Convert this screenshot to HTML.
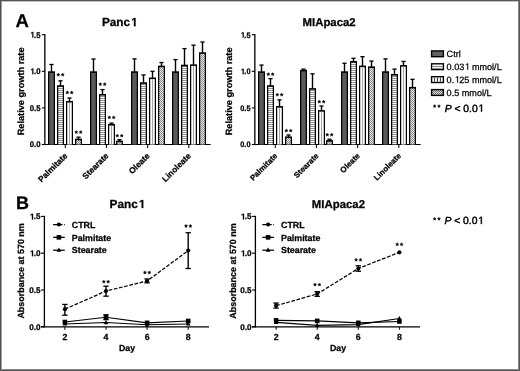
<!DOCTYPE html>
<html><head><meta charset="utf-8"><style>
html,body{margin:0;padding:0;background:#fff;overflow:hidden;}
svg{display:block;filter:grayscale(1);}
text{font-family:"Liberation Sans", sans-serif;fill:#000;text-rendering:geometricPrecision;stroke:#000;stroke-width:0.25px;}
</style></head><body>
<svg width="520" height="371" viewBox="0 0 520 371">
<defs>
<pattern id="hstripe" patternUnits="userSpaceOnUse" width="4" height="2"><rect width="4" height="2" fill="#fff"/><rect width="4" height="1" fill="#909090"/></pattern>
<pattern id="vstripe" patternUnits="userSpaceOnUse" width="2.6" height="4"><rect width="2.6" height="4" fill="#fff"/><rect width="0.8" height="4" fill="#9a9a9a"/></pattern>
<pattern id="xhatch2" patternUnits="userSpaceOnUse" width="2" height="2"><rect width="2" height="2" fill="#d8d8d8"/><rect width="1" height="1" fill="#707070"/><rect x="1" y="1" width="1" height="1" fill="#707070"/></pattern>
<pattern id="xhatch" patternUnits="userSpaceOnUse" width="2" height="2"><rect width="2" height="2" fill="#e8e8e8"/><rect width="1" height="1" fill="#8a8a8a"/><rect x="1" y="1" width="1" height="1" fill="#8a8a8a"/></pattern>
<filter id="soft" filterUnits="userSpaceOnUse" x="0" y="0" width="520" height="371"><feGaussianBlur stdDeviation="0.3"/></filter>
</defs>
<rect x="0" y="0" width="520" height="371" fill="#fff"/>
<g filter="url(#soft)">
<text x="15.6" y="26.8" font-size="18.5" font-weight="bold">A</text>
<text x="16.1" y="208.6" font-size="18.0" font-weight="bold">B</text>
<rect x="44.20" y="34.10" width="1.3" height="111.00" fill="#000"/>
<line x1="44.4" y1="144.5" x2="210.6" y2="144.5" stroke="#000" stroke-width="1.2"/>
<line x1="41.8" y1="34.70" x2="45" y2="34.70" stroke="#000" stroke-width="1.1"/>
<text id="t1_0" transform="translate(40.50,37.60) scale(0.93,1)" font-size="8.3" font-weight="bold" text-anchor="end"> .5</text><path transform="translate(40.50,37.60) scale(0.93,1) translate(-11.547,0.000) scale(0.004053,-0.004053)" d="M668,0 L668,1170 L330,959 L330,1180 L683,1409 L949,1409 L949,0 Z" fill="#000" stroke="#000" stroke-width="61.69"/>
<line x1="41.8" y1="71.30" x2="45" y2="71.30" stroke="#000" stroke-width="1.1"/>
<text id="t1_1" transform="translate(40.50,74.20) scale(0.93,1)" font-size="8.3" font-weight="bold" text-anchor="end"> .0</text><path transform="translate(40.50,74.20) scale(0.93,1) translate(-11.547,0.000) scale(0.004053,-0.004053)" d="M668,0 L668,1170 L330,959 L330,1180 L683,1409 L949,1409 L949,0 Z" fill="#000" stroke="#000" stroke-width="61.69"/>
<line x1="41.8" y1="107.90" x2="45" y2="107.90" stroke="#000" stroke-width="1.1"/>
<text transform="translate(40.50,110.80) scale(0.93,1)" font-size="8.3" font-weight="bold" text-anchor="end">0.5</text>
<line x1="41.8" y1="144.50" x2="45" y2="144.50" stroke="#000" stroke-width="1.1"/>
<text transform="translate(40.50,147.40) scale(0.93,1)" font-size="8.3" font-weight="bold" text-anchor="end">0.0</text>
<text transform="translate(23.8,91.4) rotate(-90)" font-size="9.2" font-weight="bold" text-anchor="middle">Relative growth rate</text>
<text id="t1_2" x="101.9" y="26.2" font-size="11.8" font-weight="bold">Panc </text><path transform=" translate(130.087,26.200) scale(0.005762,-0.005762)" d="M668,0 L668,1170 L330,959 L330,1180 L683,1409 L949,1409 L949,0 Z" fill="#000" stroke="#000" stroke-width="43.39"/>
<rect x="50.80" y="64.49" width="1.4" height="7.31" fill="#000"/>
<rect x="49.40" y="63.84" width="4.2" height="1.3" fill="#000"/>
<rect x="48" y="71.30" width="7" height="73.20" fill="#000"/>
<rect x="49.25" y="72.90" width="4.50" height="71.60" fill="#5a5a5a"/>
<rect x="59.80" y="80.82" width="1.4" height="4.89" fill="#000"/>
<rect x="58.40" y="80.17" width="4.2" height="1.3" fill="#000"/>
<rect x="57" y="85.21" width="7" height="59.29" fill="#000"/>
<rect x="58.25" y="86.81" width="4.50" height="57.69" fill="url(#hstripe)"/>
<polygon points="58.30,73.03 58.81,74.05 59.94,74.22 59.12,75.02 59.31,76.15 58.30,75.61 57.29,76.15 57.48,75.02 56.66,74.22 57.79,74.05" fill="#000" stroke="#000" stroke-width="0.35" stroke-linejoin="round"/><polygon points="62.70,73.03 63.21,74.05 64.34,74.22 63.52,75.02 63.71,76.15 62.70,75.61 61.69,76.15 61.88,75.02 61.06,74.22 62.19,74.05" fill="#000" stroke="#000" stroke-width="0.35" stroke-linejoin="round"/>
<rect x="68.80" y="98.02" width="1.4" height="3.43" fill="#000"/>
<rect x="67.40" y="97.37" width="4.2" height="1.3" fill="#000"/>
<rect x="66" y="100.95" width="7" height="43.55" fill="#000"/>
<rect x="67.25" y="102.55" width="4.50" height="41.95" fill="#fff"/>
<rect x="69.05" y="102.55" width="0.9" height="41.95" fill="#999"/>
<rect x="67.25" y="102.55" width="0.5" height="41.95" fill="#ccc"/>
<polygon points="67.30,90.83 67.81,91.85 68.94,92.02 68.12,92.82 68.31,93.95 67.30,93.41 66.29,93.95 66.48,92.82 65.66,92.02 66.79,91.85" fill="#000" stroke="#000" stroke-width="0.35" stroke-linejoin="round"/><polygon points="71.70,90.83 72.21,91.85 73.34,92.02 72.52,92.82 72.71,93.95 71.70,93.41 70.69,93.95 70.88,92.82 70.06,92.02 71.19,91.85" fill="#000" stroke="#000" stroke-width="0.35" stroke-linejoin="round"/>
<rect x="77.80" y="137.18" width="1.4" height="1.96" fill="#000"/>
<rect x="76.40" y="136.53" width="4.2" height="1.3" fill="#000"/>
<rect x="75" y="138.64" width="7" height="5.86" fill="#000"/>
<rect x="76.25" y="140.24" width="4.50" height="4.26" fill="url(#xhatch)"/>
<polygon points="76.30,130.43 76.81,131.45 77.94,131.62 77.12,132.42 77.31,133.55 76.30,133.01 75.29,133.55 75.48,132.42 74.66,131.62 75.79,131.45" fill="#000" stroke="#000" stroke-width="0.35" stroke-linejoin="round"/><polygon points="80.70,130.43 81.21,131.45 82.34,131.62 81.52,132.42 81.71,133.55 80.70,133.01 79.69,133.55 79.88,132.42 79.06,131.62 80.19,131.45" fill="#000" stroke="#000" stroke-width="0.35" stroke-linejoin="round"/>
<line x1="65.25" y1="144.5" x2="65.25" y2="148.0" stroke="#000" stroke-width="1"/>
<text transform="translate(67.95,156.4) rotate(-45)" font-size="8.4" font-weight="bold" text-anchor="end">Palmitate</text>
<rect x="92.80" y="59.00" width="1.4" height="12.80" fill="#000"/>
<rect x="91.40" y="58.35" width="4.2" height="1.3" fill="#000"/>
<rect x="90" y="71.30" width="7" height="73.20" fill="#000"/>
<rect x="91.25" y="72.90" width="4.50" height="71.60" fill="#5a5a5a"/>
<rect x="101.80" y="89.60" width="1.4" height="4.89" fill="#000"/>
<rect x="100.40" y="88.95" width="4.2" height="1.3" fill="#000"/>
<rect x="99" y="93.99" width="7" height="50.51" fill="#000"/>
<rect x="100.25" y="95.59" width="4.50" height="48.91" fill="url(#hstripe)"/>
<polygon points="100.30,82.53 100.81,83.55 101.94,83.72 101.12,84.52 101.31,85.65 100.30,85.11 99.29,85.65 99.48,84.52 98.66,83.72 99.79,83.55" fill="#000" stroke="#000" stroke-width="0.35" stroke-linejoin="round"/><polygon points="104.70,82.53 105.21,83.55 106.34,83.72 105.52,84.52 105.71,85.65 104.70,85.11 103.69,85.65 103.88,84.52 103.06,83.72 104.19,83.55" fill="#000" stroke="#000" stroke-width="0.35" stroke-linejoin="round"/>
<rect x="110.80" y="123.13" width="1.4" height="1.38" fill="#000"/>
<rect x="109.40" y="122.48" width="4.2" height="1.3" fill="#000"/>
<rect x="108" y="124.00" width="7" height="20.50" fill="#000"/>
<rect x="109.25" y="125.60" width="4.50" height="18.90" fill="#fff"/>
<rect x="111.05" y="125.60" width="0.9" height="18.90" fill="#999"/>
<rect x="109.25" y="125.60" width="0.5" height="18.90" fill="#ccc"/>
<polygon points="109.30,115.73 109.81,116.75 110.94,116.92 110.12,117.72 110.31,118.85 109.30,118.31 108.29,118.85 108.48,117.72 107.66,116.92 108.79,116.75" fill="#000" stroke="#000" stroke-width="0.35" stroke-linejoin="round"/><polygon points="113.70,115.73 114.21,116.75 115.34,116.92 114.52,117.72 114.71,118.85 113.70,118.31 112.69,118.85 112.88,117.72 112.06,116.92 113.19,116.75" fill="#000" stroke="#000" stroke-width="0.35" stroke-linejoin="round"/>
<rect x="118.80" y="139.67" width="1.4" height="1.45" fill="#000"/>
<rect x="117.40" y="139.02" width="4.2" height="1.3" fill="#000"/>
<rect x="116" y="140.62" width="7" height="3.88" fill="#000"/>
<rect x="117.25" y="142.22" width="4.50" height="2.28" fill="url(#xhatch)"/>
<polygon points="117.30,134.03 117.81,135.05 118.94,135.22 118.12,136.02 118.31,137.15 117.30,136.61 116.29,137.15 116.48,136.02 115.66,135.22 116.79,135.05" fill="#000" stroke="#000" stroke-width="0.35" stroke-linejoin="round"/><polygon points="121.70,134.03 122.21,135.05 123.34,135.22 122.52,136.02 122.71,137.15 121.70,136.61 120.69,137.15 120.88,136.02 120.06,135.22 121.19,135.05" fill="#000" stroke="#000" stroke-width="0.35" stroke-linejoin="round"/>
<line x1="106.45" y1="144.5" x2="106.45" y2="148.0" stroke="#000" stroke-width="1"/>
<text transform="translate(109.15,156.4) rotate(-45)" font-size="8.4" font-weight="bold" text-anchor="end">Stearate</text>
<rect x="133.80" y="58.86" width="1.4" height="12.94" fill="#000"/>
<rect x="132.40" y="58.21" width="4.2" height="1.3" fill="#000"/>
<rect x="131" y="71.30" width="7" height="73.20" fill="#000"/>
<rect x="132.25" y="72.90" width="4.50" height="71.60" fill="#5a5a5a"/>
<rect x="142.80" y="74.96" width="1.4" height="7.82" fill="#000"/>
<rect x="141.40" y="74.31" width="4.2" height="1.3" fill="#000"/>
<rect x="140" y="82.28" width="7" height="62.22" fill="#000"/>
<rect x="141.25" y="83.88" width="4.50" height="60.62" fill="url(#hstripe)"/>
<rect x="151.80" y="71.30" width="1.4" height="6.72" fill="#000"/>
<rect x="150.40" y="70.65" width="4.2" height="1.3" fill="#000"/>
<rect x="149" y="77.52" width="7" height="66.98" fill="#000"/>
<rect x="150.25" y="79.12" width="4.50" height="65.38" fill="#fff"/>
<rect x="152.05" y="79.12" width="0.9" height="65.38" fill="#999"/>
<rect x="150.25" y="79.12" width="0.5" height="65.38" fill="#ccc"/>
<rect x="160.80" y="62.52" width="1.4" height="3.65" fill="#000"/>
<rect x="159.40" y="61.87" width="4.2" height="1.3" fill="#000"/>
<rect x="158" y="65.66" width="7" height="78.84" fill="#000"/>
<rect x="159.25" y="67.26" width="4.50" height="77.24" fill="url(#xhatch)"/>
<line x1="147.65" y1="144.5" x2="147.65" y2="148.0" stroke="#000" stroke-width="1"/>
<text transform="translate(150.35,156.4) rotate(-45)" font-size="8.4" font-weight="bold" text-anchor="end">Oleate</text>
<rect x="174.80" y="59.59" width="1.4" height="12.21" fill="#000"/>
<rect x="173.40" y="58.94" width="4.2" height="1.3" fill="#000"/>
<rect x="172" y="71.30" width="7" height="73.20" fill="#000"/>
<rect x="173.25" y="72.90" width="4.50" height="71.60" fill="#5a5a5a"/>
<rect x="183.80" y="48.61" width="1.4" height="16.60" fill="#000"/>
<rect x="182.40" y="47.96" width="4.2" height="1.3" fill="#000"/>
<rect x="181" y="64.71" width="7" height="79.79" fill="#000"/>
<rect x="182.25" y="66.31" width="4.50" height="78.19" fill="url(#hstripe)"/>
<rect x="192.80" y="45.17" width="1.4" height="19.68" fill="#000"/>
<rect x="191.40" y="44.52" width="4.2" height="1.3" fill="#000"/>
<rect x="190" y="64.35" width="7" height="80.15" fill="#000"/>
<rect x="191.25" y="65.95" width="4.50" height="78.55" fill="#fff"/>
<rect x="193.05" y="65.95" width="0.9" height="78.55" fill="#999"/>
<rect x="191.25" y="65.95" width="0.5" height="78.55" fill="#ccc"/>
<rect x="201.80" y="42.02" width="1.4" height="10.75" fill="#000"/>
<rect x="200.40" y="41.37" width="4.2" height="1.3" fill="#000"/>
<rect x="199" y="52.27" width="7" height="92.23" fill="#000"/>
<rect x="200.25" y="53.87" width="4.50" height="90.63" fill="url(#xhatch)"/>
<line x1="188.85" y1="144.5" x2="188.85" y2="148.0" stroke="#000" stroke-width="1"/>
<text transform="translate(191.55,156.4) rotate(-45)" font-size="8.4" font-weight="bold" text-anchor="end">Linoleate</text>
<rect x="254.20" y="34.10" width="1.3" height="111.00" fill="#000"/>
<line x1="254.4" y1="144.5" x2="420.6" y2="144.5" stroke="#000" stroke-width="1.2"/>
<line x1="251.8" y1="34.70" x2="255" y2="34.70" stroke="#000" stroke-width="1.1"/>
<text id="t1_3" transform="translate(250.50,37.60) scale(0.93,1)" font-size="7.9" font-weight="bold" text-anchor="end"> .5</text><path transform="translate(250.50,37.60) scale(0.93,1) translate(-10.984,0.000) scale(0.003857,-0.003857)" d="M668,0 L668,1170 L330,959 L330,1180 L683,1409 L949,1409 L949,0 Z" fill="#000" stroke="#000" stroke-width="64.81"/>
<line x1="251.8" y1="71.30" x2="255" y2="71.30" stroke="#000" stroke-width="1.1"/>
<text id="t1_4" transform="translate(250.50,74.20) scale(0.93,1)" font-size="7.9" font-weight="bold" text-anchor="end"> .0</text><path transform="translate(250.50,74.20) scale(0.93,1) translate(-10.984,0.000) scale(0.003857,-0.003857)" d="M668,0 L668,1170 L330,959 L330,1180 L683,1409 L949,1409 L949,0 Z" fill="#000" stroke="#000" stroke-width="64.81"/>
<line x1="251.8" y1="107.90" x2="255" y2="107.90" stroke="#000" stroke-width="1.1"/>
<text transform="translate(250.50,110.80) scale(0.93,1)" font-size="7.9" font-weight="bold" text-anchor="end">0.5</text>
<line x1="251.8" y1="144.50" x2="255" y2="144.50" stroke="#000" stroke-width="1.1"/>
<text transform="translate(250.50,147.40) scale(0.93,1)" font-size="7.9" font-weight="bold" text-anchor="end">0.0</text>
<text transform="translate(231.8,91.4) rotate(-90)" font-size="9.2" font-weight="bold" text-anchor="middle">Relative growth rate</text>
<text x="302.5" y="26.0" font-size="11.4" font-weight="bold">MIApaca2</text>
<rect x="260.80" y="65.08" width="1.4" height="6.72" fill="#000"/>
<rect x="259.40" y="64.43" width="4.2" height="1.3" fill="#000"/>
<rect x="258" y="71.30" width="7" height="73.20" fill="#000"/>
<rect x="259.25" y="72.90" width="4.50" height="71.60" fill="#5a5a5a"/>
<rect x="269.80" y="78.62" width="1.4" height="7.09" fill="#000"/>
<rect x="268.40" y="77.97" width="4.2" height="1.3" fill="#000"/>
<rect x="267" y="85.21" width="7" height="59.29" fill="#000"/>
<rect x="268.25" y="86.81" width="4.50" height="57.69" fill="url(#hstripe)"/>
<polygon points="268.30,72.53 268.81,73.55 269.94,73.72 269.12,74.52 269.31,75.65 268.30,75.11 267.29,75.65 267.48,74.52 266.66,73.72 267.79,73.55" fill="#000" stroke="#000" stroke-width="0.35" stroke-linejoin="round"/><polygon points="272.70,72.53 273.21,73.55 274.34,73.72 273.52,74.52 273.71,75.65 272.70,75.11 271.69,75.65 271.88,74.52 271.06,73.72 272.19,73.55" fill="#000" stroke="#000" stroke-width="0.35" stroke-linejoin="round"/>
<rect x="278.80" y="99.85" width="1.4" height="6.72" fill="#000"/>
<rect x="277.40" y="99.20" width="4.2" height="1.3" fill="#000"/>
<rect x="276" y="106.07" width="7" height="38.43" fill="#000"/>
<rect x="277.25" y="107.67" width="4.50" height="36.83" fill="#fff"/>
<rect x="279.05" y="107.67" width="0.9" height="36.83" fill="#999"/>
<rect x="277.25" y="107.67" width="0.5" height="36.83" fill="#ccc"/>
<polygon points="277.30,93.03 277.81,94.05 278.94,94.22 278.12,95.02 278.31,96.15 277.30,95.61 276.29,96.15 276.48,95.02 275.66,94.22 276.79,94.05" fill="#000" stroke="#000" stroke-width="0.35" stroke-linejoin="round"/><polygon points="281.70,93.03 282.21,94.05 283.34,94.22 282.52,95.02 282.71,96.15 281.70,95.61 280.69,96.15 280.88,95.02 280.06,94.22 281.19,94.05" fill="#000" stroke="#000" stroke-width="0.35" stroke-linejoin="round"/>
<rect x="287.80" y="134.98" width="1.4" height="1.96" fill="#000"/>
<rect x="286.40" y="134.33" width="4.2" height="1.3" fill="#000"/>
<rect x="285" y="136.45" width="7" height="8.05" fill="#000"/>
<rect x="286.25" y="138.05" width="4.50" height="6.45" fill="url(#xhatch)"/>
<polygon points="286.30,128.93 286.81,129.95 287.94,130.12 287.12,130.92 287.31,132.05 286.30,131.51 285.29,132.05 285.48,130.92 284.66,130.12 285.79,129.95" fill="#000" stroke="#000" stroke-width="0.35" stroke-linejoin="round"/><polygon points="290.70,128.93 291.21,129.95 292.34,130.12 291.52,130.92 291.71,132.05 290.70,131.51 289.69,132.05 289.88,130.92 289.06,130.12 290.19,129.95" fill="#000" stroke="#000" stroke-width="0.35" stroke-linejoin="round"/>
<line x1="275.25" y1="144.5" x2="275.25" y2="148.0" stroke="#000" stroke-width="1"/>
<text transform="translate(277.95,156.4) rotate(-45)" font-size="7.9" font-weight="bold" text-anchor="end">Palmitate</text>
<rect x="302.80" y="69.10" width="1.4" height="1.23" fill="#000"/>
<rect x="301.40" y="68.45" width="4.2" height="1.3" fill="#000"/>
<rect x="300" y="69.84" width="7" height="74.66" fill="#000"/>
<rect x="301.25" y="71.44" width="4.50" height="73.06" fill="#5a5a5a"/>
<rect x="311.80" y="73.79" width="1.4" height="14.85" fill="#000"/>
<rect x="310.40" y="73.14" width="4.2" height="1.3" fill="#000"/>
<rect x="309" y="88.14" width="7" height="56.36" fill="#000"/>
<rect x="310.25" y="89.74" width="4.50" height="54.76" fill="url(#hstripe)"/>
<rect x="320.80" y="106.00" width="1.4" height="4.60" fill="#000"/>
<rect x="319.40" y="105.35" width="4.2" height="1.3" fill="#000"/>
<rect x="318" y="110.10" width="7" height="34.40" fill="#000"/>
<rect x="319.25" y="111.70" width="4.50" height="32.80" fill="#fff"/>
<rect x="321.05" y="111.70" width="0.9" height="32.80" fill="#999"/>
<rect x="319.25" y="111.70" width="0.5" height="32.80" fill="#ccc"/>
<polygon points="319.30,100.03 319.81,101.05 320.94,101.22 320.12,102.02 320.31,103.15 319.30,102.61 318.29,103.15 318.48,102.02 317.66,101.22 318.79,101.05" fill="#000" stroke="#000" stroke-width="0.35" stroke-linejoin="round"/><polygon points="323.70,100.03 324.21,101.05 325.34,101.22 324.52,102.02 324.71,103.15 323.70,102.61 322.69,103.15 322.88,102.02 322.06,101.22 323.19,101.05" fill="#000" stroke="#000" stroke-width="0.35" stroke-linejoin="round"/>
<rect x="328.80" y="139.23" width="1.4" height="1.38" fill="#000"/>
<rect x="327.40" y="138.58" width="4.2" height="1.3" fill="#000"/>
<rect x="326" y="140.11" width="7" height="4.39" fill="#000"/>
<rect x="327.25" y="141.71" width="4.50" height="2.79" fill="url(#xhatch)"/>
<polygon points="327.30,133.03 327.81,134.05 328.94,134.22 328.12,135.02 328.31,136.15 327.30,135.61 326.29,136.15 326.48,135.02 325.66,134.22 326.79,134.05" fill="#000" stroke="#000" stroke-width="0.35" stroke-linejoin="round"/><polygon points="331.70,133.03 332.21,134.05 333.34,134.22 332.52,135.02 332.71,136.15 331.70,135.61 330.69,136.15 330.88,135.02 330.06,134.22 331.19,134.05" fill="#000" stroke="#000" stroke-width="0.35" stroke-linejoin="round"/>
<line x1="316.45" y1="144.5" x2="316.45" y2="148.0" stroke="#000" stroke-width="1"/>
<text transform="translate(319.15,156.4) rotate(-45)" font-size="7.9" font-weight="bold" text-anchor="end">Stearate</text>
<rect x="343.80" y="63.25" width="1.4" height="8.55" fill="#000"/>
<rect x="342.40" y="62.60" width="4.2" height="1.3" fill="#000"/>
<rect x="341" y="71.30" width="7" height="73.20" fill="#000"/>
<rect x="342.25" y="72.90" width="4.50" height="71.60" fill="#5a5a5a"/>
<rect x="352.80" y="58.27" width="1.4" height="3.28" fill="#000"/>
<rect x="351.40" y="57.62" width="4.2" height="1.3" fill="#000"/>
<rect x="350" y="61.05" width="7" height="83.45" fill="#000"/>
<rect x="351.25" y="62.65" width="4.50" height="81.85" fill="url(#hstripe)"/>
<rect x="361.80" y="56.66" width="1.4" height="9.43" fill="#000"/>
<rect x="360.40" y="56.01" width="4.2" height="1.3" fill="#000"/>
<rect x="359" y="65.59" width="7" height="78.91" fill="#000"/>
<rect x="360.25" y="67.19" width="4.50" height="77.31" fill="#fff"/>
<rect x="362.05" y="67.19" width="0.9" height="77.31" fill="#999"/>
<rect x="360.25" y="67.19" width="0.5" height="77.31" fill="#ccc"/>
<rect x="370.80" y="61.05" width="1.4" height="5.84" fill="#000"/>
<rect x="369.40" y="60.40" width="4.2" height="1.3" fill="#000"/>
<rect x="368" y="66.40" width="7" height="78.10" fill="#000"/>
<rect x="369.25" y="68.00" width="4.50" height="76.50" fill="url(#xhatch)"/>
<line x1="357.65" y1="144.5" x2="357.65" y2="148.0" stroke="#000" stroke-width="1"/>
<text transform="translate(360.35,156.4) rotate(-45)" font-size="7.9" font-weight="bold" text-anchor="end">Oleate</text>
<rect x="384.80" y="58.86" width="1.4" height="12.94" fill="#000"/>
<rect x="383.40" y="58.21" width="4.2" height="1.3" fill="#000"/>
<rect x="382" y="71.30" width="7" height="73.20" fill="#000"/>
<rect x="383.25" y="72.90" width="4.50" height="71.60" fill="#5a5a5a"/>
<rect x="393.80" y="69.10" width="1.4" height="5.40" fill="#000"/>
<rect x="392.40" y="68.45" width="4.2" height="1.3" fill="#000"/>
<rect x="391" y="74.01" width="7" height="70.49" fill="#000"/>
<rect x="392.25" y="75.61" width="4.50" height="68.89" fill="url(#hstripe)"/>
<rect x="402.80" y="61.42" width="1.4" height="4.16" fill="#000"/>
<rect x="401.40" y="60.77" width="4.2" height="1.3" fill="#000"/>
<rect x="400" y="65.08" width="7" height="79.42" fill="#000"/>
<rect x="401.25" y="66.68" width="4.50" height="77.82" fill="#fff"/>
<rect x="403.05" y="66.68" width="0.9" height="77.82" fill="#999"/>
<rect x="401.25" y="66.68" width="0.5" height="77.82" fill="#ccc"/>
<rect x="411.80" y="79.35" width="1.4" height="8.04" fill="#000"/>
<rect x="410.40" y="78.70" width="4.2" height="1.3" fill="#000"/>
<rect x="409" y="86.89" width="7" height="57.61" fill="#000"/>
<rect x="410.25" y="88.49" width="4.50" height="56.01" fill="url(#xhatch)"/>
<line x1="398.85" y1="144.5" x2="398.85" y2="148.0" stroke="#000" stroke-width="1"/>
<text transform="translate(401.55,156.4) rotate(-45)" font-size="7.9" font-weight="bold" text-anchor="end">Linoleate</text>
<rect x="43.75" y="215.80" width="1.3" height="111.60" fill="#000"/>
<line x1="41" y1="326.8" x2="209" y2="326.8" stroke="#000" stroke-width="1.2"/>
<line x1="41" y1="216.40" x2="44.2" y2="216.40" stroke="#000" stroke-width="1.1"/>
<text id="t1_5" transform="translate(40.60,219.40) scale(0.98,1)" font-size="8.3" font-weight="bold" text-anchor="end"> .5</text><path transform="translate(40.60,219.40) scale(0.98,1) translate(-11.547,0.000) scale(0.004053,-0.004053)" d="M668,0 L668,1170 L330,959 L330,1180 L683,1409 L949,1409 L949,0 Z" fill="#000" stroke="#000" stroke-width="61.69"/>
<line x1="41" y1="253.20" x2="44.2" y2="253.20" stroke="#000" stroke-width="1.1"/>
<text id="t1_6" transform="translate(40.60,256.20) scale(0.98,1)" font-size="8.3" font-weight="bold" text-anchor="end"> .0</text><path transform="translate(40.60,256.20) scale(0.98,1) translate(-11.547,0.000) scale(0.004053,-0.004053)" d="M668,0 L668,1170 L330,959 L330,1180 L683,1409 L949,1409 L949,0 Z" fill="#000" stroke="#000" stroke-width="61.69"/>
<line x1="41" y1="290.00" x2="44.2" y2="290.00" stroke="#000" stroke-width="1.1"/>
<text transform="translate(40.60,293.00) scale(0.98,1)" font-size="8.3" font-weight="bold" text-anchor="end">0.5</text>
<line x1="41" y1="326.80" x2="44.2" y2="326.80" stroke="#000" stroke-width="1.1"/>
<text transform="translate(40.60,329.80) scale(0.98,1)" font-size="8.3" font-weight="bold" text-anchor="end">0.0</text>
<text transform="translate(23.9,270.9) rotate(-90)" font-size="8.95" font-weight="bold" text-anchor="middle">Absorbance at 570 nm</text>
<text id="t1_7" x="109.6" y="208.1" font-size="11.8" font-weight="bold">Panc </text><path transform=" translate(137.788,208.100) scale(0.005762,-0.005762)" d="M668,0 L668,1170 L330,959 L330,1180 L683,1409 L949,1409 L949,0 Z" fill="#000" stroke="#000" stroke-width="43.39"/>
<line x1="64.90" y1="326.8" x2="64.90" y2="329.8" stroke="#000" stroke-width="1"/>
<text x="64.90" y="339.6" font-size="8.8" font-weight="bold" text-anchor="middle">2</text>
<line x1="106.00" y1="326.8" x2="106.00" y2="329.8" stroke="#000" stroke-width="1"/>
<text x="106.00" y="339.6" font-size="8.8" font-weight="bold" text-anchor="middle">4</text>
<line x1="147.10" y1="326.8" x2="147.10" y2="329.8" stroke="#000" stroke-width="1"/>
<text x="147.10" y="339.6" font-size="8.8" font-weight="bold" text-anchor="middle">6</text>
<line x1="188.20" y1="326.8" x2="188.20" y2="329.8" stroke="#000" stroke-width="1"/>
<text x="188.20" y="339.6" font-size="8.8" font-weight="bold" text-anchor="middle">8</text>
<text x="127" y="350.9" font-size="8.8" font-weight="bold" text-anchor="middle">Day</text>
<path d="M64.90,324.00 L106.00,322.53 L147.10,324.81 L188.20,324.00" fill="none" stroke="#000" stroke-width="1.1"/>
<path d="M64.90,321.40 L67.20,325.60 L62.60,325.60 Z" fill="#000"/>
<path d="M106.00,319.93 L108.30,324.13 L103.70,324.13 Z" fill="#000"/>
<path d="M147.10,322.21 L149.40,326.41 L144.80,326.41 Z" fill="#000"/>
<path d="M188.20,321.40 L190.50,325.60 L185.90,325.60 Z" fill="#000"/>
<path d="M64.90,322.02 L106.00,317.23 L147.10,322.83 L188.20,320.99" fill="none" stroke="#000" stroke-width="1.1"/>
<rect x="62.60" y="319.72" width="4.6" height="4.6" fill="#000"/>
<line x1="106.00" y1="319.66" x2="106.00" y2="314.80" stroke="#000" stroke-width="1.4"/>
<line x1="103.30" y1="319.66" x2="108.70" y2="319.66" stroke="#000" stroke-width="1.3"/>
<line x1="103.30" y1="314.80" x2="108.70" y2="314.80" stroke="#000" stroke-width="1.3"/>
<rect x="103.70" y="314.93" width="4.6" height="4.6" fill="#000"/>
<rect x="144.80" y="320.53" width="4.6" height="4.6" fill="#000"/>
<rect x="185.90" y="318.69" width="4.6" height="4.6" fill="#000"/>
<path d="M64.90,309.14 L106.00,291.03 L147.10,281.02 L188.20,250.62" fill="none" stroke="#000" stroke-width="1.25" stroke-dasharray="3.7,1.6"/>
<line x1="64.90" y1="315.17" x2="64.90" y2="304.43" stroke="#000" stroke-width="1.4"/>
<line x1="62.20" y1="315.17" x2="67.60" y2="315.17" stroke="#000" stroke-width="1.3"/>
<line x1="62.20" y1="304.43" x2="67.60" y2="304.43" stroke="#000" stroke-width="1.3"/>
<circle cx="64.90" cy="309.14" r="2.1" fill="#000"/>
<line x1="106.00" y1="296.18" x2="106.00" y2="286.17" stroke="#000" stroke-width="1.4"/>
<line x1="103.30" y1="296.18" x2="108.70" y2="296.18" stroke="#000" stroke-width="1.3"/>
<line x1="103.30" y1="286.17" x2="108.70" y2="286.17" stroke="#000" stroke-width="1.3"/>
<circle cx="106.00" cy="291.03" r="2.1" fill="#000"/>
<line x1="147.10" y1="282.86" x2="147.10" y2="278.96" stroke="#000" stroke-width="1.4"/>
<line x1="144.40" y1="282.86" x2="149.80" y2="282.86" stroke="#000" stroke-width="1.3"/>
<line x1="144.40" y1="278.96" x2="149.80" y2="278.96" stroke="#000" stroke-width="1.3"/>
<circle cx="147.10" cy="281.02" r="2.1" fill="#000"/>
<line x1="188.20" y1="268.51" x2="188.20" y2="232.74" stroke="#000" stroke-width="1.4"/>
<line x1="185.50" y1="268.51" x2="190.90" y2="268.51" stroke="#000" stroke-width="1.3"/>
<line x1="185.50" y1="232.74" x2="190.90" y2="232.74" stroke="#000" stroke-width="1.3"/>
<circle cx="188.20" cy="250.62" r="2.1" fill="#000"/>
<polygon points="103.80,280.02 104.31,281.05 105.44,281.22 104.62,282.02 104.81,283.15 103.80,282.61 102.79,283.15 102.98,282.02 102.16,281.22 103.29,281.05" fill="#000" stroke="#000" stroke-width="0.35" stroke-linejoin="round"/><polygon points="108.20,280.02 108.71,281.05 109.84,281.22 109.02,282.02 109.21,283.15 108.20,282.61 107.19,283.15 107.38,282.02 106.56,281.22 107.69,281.05" fill="#000" stroke="#000" stroke-width="0.35" stroke-linejoin="round"/>
<polygon points="144.90,270.82 145.41,271.85 146.54,272.02 145.72,272.82 145.91,273.95 144.90,273.41 143.89,273.95 144.08,272.82 143.26,272.02 144.39,271.85" fill="#000" stroke="#000" stroke-width="0.35" stroke-linejoin="round"/><polygon points="149.30,270.82 149.81,271.85 150.94,272.02 150.12,272.82 150.31,273.95 149.30,273.41 148.29,273.95 148.48,272.82 147.66,272.02 148.79,271.85" fill="#000" stroke="#000" stroke-width="0.35" stroke-linejoin="round"/>
<polygon points="186.00,224.33 186.51,225.35 187.64,225.52 186.82,226.32 187.01,227.45 186.00,226.91 184.99,227.45 185.18,226.32 184.36,225.52 185.49,225.35" fill="#000" stroke="#000" stroke-width="0.35" stroke-linejoin="round"/><polygon points="190.40,224.33 190.91,225.35 192.04,225.52 191.22,226.32 191.41,227.45 190.40,226.91 189.39,227.45 189.58,226.32 188.76,225.52 189.89,225.35" fill="#000" stroke="#000" stroke-width="0.35" stroke-linejoin="round"/>
<line x1="53.10" y1="224.50" x2="64.80" y2="224.50" stroke="#000" stroke-width="1.25" stroke-dasharray="3.9,1.6"/>
<circle cx="58.90" cy="224.50" r="2.1" fill="#000"/>
<text x="71.80" y="227.70" font-size="8.85" font-weight="bold">CTRL</text>
<line x1="53.10" y1="237.35" x2="64.80" y2="237.35" stroke="#000" stroke-width="1.25"/>
<rect x="56.60" y="235.05" width="4.6" height="4.6" fill="#000"/>
<text x="71.80" y="240.55" font-size="8.85" font-weight="bold">Palmitate</text>
<line x1="53.10" y1="250.20" x2="64.80" y2="250.20" stroke="#000" stroke-width="1.25"/>
<path d="M58.90,247.60 L61.20,251.80 L56.60,251.80 Z" fill="#000"/>
<text x="71.80" y="253.40" font-size="8.85" font-weight="bold">Stearate</text>
<rect x="254.75" y="215.80" width="1.3" height="111.60" fill="#000"/>
<line x1="252.0" y1="326.8" x2="420.0" y2="326.8" stroke="#000" stroke-width="1.2"/>
<line x1="252.0" y1="216.40" x2="255.2" y2="216.40" stroke="#000" stroke-width="1.1"/>
<text id="t1_8" transform="translate(251.60,219.40) scale(0.98,1)" font-size="8.3" font-weight="bold" text-anchor="end"> .5</text><path transform="translate(251.60,219.40) scale(0.98,1) translate(-11.547,0.000) scale(0.004053,-0.004053)" d="M668,0 L668,1170 L330,959 L330,1180 L683,1409 L949,1409 L949,0 Z" fill="#000" stroke="#000" stroke-width="61.69"/>
<line x1="252.0" y1="253.20" x2="255.2" y2="253.20" stroke="#000" stroke-width="1.1"/>
<text id="t1_9" transform="translate(251.60,256.20) scale(0.98,1)" font-size="8.3" font-weight="bold" text-anchor="end"> .0</text><path transform="translate(251.60,256.20) scale(0.98,1) translate(-11.547,0.000) scale(0.004053,-0.004053)" d="M668,0 L668,1170 L330,959 L330,1180 L683,1409 L949,1409 L949,0 Z" fill="#000" stroke="#000" stroke-width="61.69"/>
<line x1="252.0" y1="290.00" x2="255.2" y2="290.00" stroke="#000" stroke-width="1.1"/>
<text transform="translate(251.60,293.00) scale(0.98,1)" font-size="8.3" font-weight="bold" text-anchor="end">0.5</text>
<line x1="252.0" y1="326.80" x2="255.2" y2="326.80" stroke="#000" stroke-width="1.1"/>
<text transform="translate(251.60,329.80) scale(0.98,1)" font-size="8.3" font-weight="bold" text-anchor="end">0.0</text>
<text transform="translate(235.8,271.0) rotate(-90)" font-size="8.95" font-weight="bold" text-anchor="middle">Absorbance at 570 nm</text>
<text x="311.8" y="208.4" font-size="11.4" font-weight="bold">MIApaca2</text>
<line x1="276.10" y1="326.8" x2="276.10" y2="329.8" stroke="#000" stroke-width="1"/>
<text x="276.10" y="339.6" font-size="8.8" font-weight="bold" text-anchor="middle">2</text>
<line x1="317.20" y1="326.8" x2="317.20" y2="329.8" stroke="#000" stroke-width="1"/>
<text x="317.20" y="339.6" font-size="8.8" font-weight="bold" text-anchor="middle">4</text>
<line x1="358.30" y1="326.8" x2="358.30" y2="329.8" stroke="#000" stroke-width="1"/>
<text x="358.30" y="339.6" font-size="8.8" font-weight="bold" text-anchor="middle">6</text>
<line x1="399.40" y1="326.8" x2="399.40" y2="329.8" stroke="#000" stroke-width="1"/>
<text x="399.40" y="339.6" font-size="8.8" font-weight="bold" text-anchor="middle">8</text>
<text x="338.0" y="350.9" font-size="8.8" font-weight="bold" text-anchor="middle">Day</text>
<path d="M276.10,322.38 L317.20,325.33 L358.30,324.59 L399.40,318.48" fill="none" stroke="#000" stroke-width="1.1"/>
<path d="M276.10,319.78 L278.40,323.98 L273.80,323.98 Z" fill="#000"/>
<path d="M317.20,322.73 L319.50,326.93 L314.90,326.93 Z" fill="#000"/>
<path d="M358.30,321.99 L360.60,326.19 L356.00,326.19 Z" fill="#000"/>
<path d="M399.40,315.88 L401.70,320.08 L397.10,320.08 Z" fill="#000"/>
<path d="M276.10,320.40 L317.20,320.91 L358.30,322.83 L399.40,321.50" fill="none" stroke="#000" stroke-width="1.1"/>
<rect x="273.80" y="318.10" width="4.6" height="4.6" fill="#000"/>
<rect x="314.90" y="318.61" width="4.6" height="4.6" fill="#000"/>
<rect x="356.00" y="320.53" width="4.6" height="4.6" fill="#000"/>
<rect x="397.10" y="319.20" width="4.6" height="4.6" fill="#000"/>
<path d="M276.10,305.68 L317.20,293.97 L358.30,268.51 L399.40,252.32" fill="none" stroke="#000" stroke-width="1.25" stroke-dasharray="3.7,1.6"/>
<line x1="276.10" y1="308.11" x2="276.10" y2="303.03" stroke="#000" stroke-width="1.4"/>
<line x1="273.40" y1="308.11" x2="278.80" y2="308.11" stroke="#000" stroke-width="1.3"/>
<line x1="273.40" y1="303.03" x2="278.80" y2="303.03" stroke="#000" stroke-width="1.3"/>
<circle cx="276.10" cy="305.68" r="2.1" fill="#000"/>
<line x1="317.20" y1="296.40" x2="317.20" y2="291.69" stroke="#000" stroke-width="1.4"/>
<line x1="314.50" y1="296.40" x2="319.90" y2="296.40" stroke="#000" stroke-width="1.3"/>
<line x1="314.50" y1="291.69" x2="319.90" y2="291.69" stroke="#000" stroke-width="1.3"/>
<circle cx="317.20" cy="293.97" r="2.1" fill="#000"/>
<line x1="358.30" y1="271.23" x2="358.30" y2="265.79" stroke="#000" stroke-width="1.4"/>
<line x1="355.60" y1="271.23" x2="361.00" y2="271.23" stroke="#000" stroke-width="1.3"/>
<line x1="355.60" y1="265.79" x2="361.00" y2="265.79" stroke="#000" stroke-width="1.3"/>
<circle cx="358.30" cy="268.51" r="2.1" fill="#000"/>
<circle cx="399.40" cy="252.32" r="2.1" fill="#000"/>
<polygon points="315.00,282.92 315.51,283.95 316.64,284.12 315.82,284.92 316.01,286.05 315.00,285.51 313.99,286.05 314.18,284.92 313.36,284.12 314.49,283.95" fill="#000" stroke="#000" stroke-width="0.35" stroke-linejoin="round"/><polygon points="319.40,282.92 319.91,283.95 321.04,284.12 320.22,284.92 320.41,286.05 319.40,285.51 318.39,286.05 318.58,284.92 317.76,284.12 318.89,283.95" fill="#000" stroke="#000" stroke-width="0.35" stroke-linejoin="round"/>
<polygon points="356.10,258.12 356.61,259.15 357.74,259.32 356.92,260.12 357.11,261.25 356.10,260.71 355.09,261.25 355.28,260.12 354.46,259.32 355.59,259.15" fill="#000" stroke="#000" stroke-width="0.35" stroke-linejoin="round"/><polygon points="360.50,258.12 361.01,259.15 362.14,259.32 361.32,260.12 361.51,261.25 360.50,260.71 359.49,261.25 359.68,260.12 358.86,259.32 359.99,259.15" fill="#000" stroke="#000" stroke-width="0.35" stroke-linejoin="round"/>
<polygon points="397.20,242.62 397.71,243.65 398.84,243.82 398.02,244.62 398.21,245.75 397.20,245.21 396.19,245.75 396.38,244.62 395.56,243.82 396.69,243.65" fill="#000" stroke="#000" stroke-width="0.35" stroke-linejoin="round"/><polygon points="401.60,242.62 402.11,243.65 403.24,243.82 402.42,244.62 402.61,245.75 401.60,245.21 400.59,245.75 400.78,244.62 399.96,243.82 401.09,243.65" fill="#000" stroke="#000" stroke-width="0.35" stroke-linejoin="round"/>
<line x1="262.30" y1="224.50" x2="274.00" y2="224.50" stroke="#000" stroke-width="1.25" stroke-dasharray="3.9,1.6"/>
<circle cx="268.10" cy="224.50" r="2.1" fill="#000"/>
<text x="281.00" y="227.70" font-size="8.85" font-weight="bold">CTRL</text>
<line x1="262.30" y1="237.35" x2="274.00" y2="237.35" stroke="#000" stroke-width="1.25"/>
<rect x="265.80" y="235.05" width="4.6" height="4.6" fill="#000"/>
<text x="281.00" y="240.55" font-size="8.85" font-weight="bold">Palmitate</text>
<line x1="262.30" y1="250.20" x2="274.00" y2="250.20" stroke="#000" stroke-width="1.25"/>
<path d="M268.10,247.60 L270.40,251.80 L265.80,251.80 Z" fill="#000"/>
<text x="281.00" y="253.40" font-size="8.85" font-weight="bold">Stearate</text>
<rect x="430.9" y="50.20" width="13.2" height="7.2" fill="#000"/>
<rect x="432.3" y="51.60" width="10.4" height="4.4" fill="#626262"/>
<text x="446.6" y="56.80" font-size="9.1">Ctrl</text>
<rect x="430.9" y="63.10" width="13.2" height="7.2" fill="#000"/>
<rect x="432.3" y="64.50" width="10.4" height="4.4" fill="#fff"/>
<rect x="432.3" y="66.00" width="10.4" height="0.9" fill="#7a7a7a"/>
<rect x="432.3" y="68.00" width="10.4" height="0.9" fill="#8a8a8a"/>
<text id="t1_10" x="446.6" y="69.70" font-size="9.1">0.03  mmol/L</text><path transform=" translate(464.288,69.700) scale(0.004443,-0.004443)" d="M685,0 L685,1237 L367,1010 L367,1180 L700,1409 L866,1409 L866,0 Z" fill="#000" stroke="#000" stroke-width="56.26"/>
<rect x="430.9" y="76.00" width="13.2" height="7.2" fill="#000"/>
<rect x="432.3" y="77.40" width="10.4" height="4.4" fill="#fff"/>
<rect x="434.10" y="77.40" width="1.0" height="4.4" fill="#333"/>
<rect x="437.00" y="77.40" width="1.0" height="4.4" fill="#333"/>
<rect x="439.90" y="77.40" width="1.0" height="4.4" fill="#333"/>
<text id="t1_11" x="446.6" y="82.60" font-size="9.1">0. 25 mmol/L</text><path transform=" translate(454.178,82.600) scale(0.004443,-0.004443)" d="M685,0 L685,1237 L367,1010 L367,1180 L700,1409 L866,1409 L866,0 Z" fill="#000" stroke="#000" stroke-width="56.26"/>
<rect x="430.9" y="88.90" width="13.2" height="7.2" fill="#000"/>
<rect x="432.3" y="90.30" width="10.4" height="4.4" fill="url(#xhatch2)"/>
<text x="446.6" y="95.50" font-size="9.1">0.5 mmol/L</text>
<polygon points="434.60,104.54 435.07,105.50 436.13,105.65 435.37,106.40 435.55,107.45 434.60,106.96 433.65,107.45 433.83,106.40 433.07,105.65 434.13,105.50" fill="#000" stroke="#000" stroke-width="0.35" stroke-linejoin="round"/><polygon points="439.00,104.54 439.47,105.50 440.53,105.65 439.77,106.40 439.95,107.45 439.00,106.96 438.05,107.45 438.23,106.40 437.47,105.65 438.53,105.50" fill="#000" stroke="#000" stroke-width="0.35" stroke-linejoin="round"/>
<text id="t1_12" x="444.7" y="111.7" font-size="10.3" style="stroke-width:0.45px"><tspan font-style="italic">P</tspan> &lt; 0.0 </text><path transform=" translate(477.622,111.700) scale(0.005029,-0.005029)" d="M685,0 L685,1237 L367,1010 L367,1180 L700,1409 L866,1409 L866,0 Z" fill="#000" stroke="#000" stroke-width="89.48"/>
<polygon points="434.60,217.24 435.07,218.20 436.13,218.35 435.37,219.10 435.55,220.15 434.60,219.66 433.65,220.15 433.83,219.10 433.07,218.35 434.13,218.20" fill="#000" stroke="#000" stroke-width="0.35" stroke-linejoin="round"/><polygon points="439.00,217.24 439.47,218.20 440.53,218.35 439.77,219.10 439.95,220.15 439.00,219.66 438.05,220.15 438.23,219.10 437.47,218.35 438.53,218.20" fill="#000" stroke="#000" stroke-width="0.35" stroke-linejoin="round"/>
<text id="t1_13" x="444.5" y="223.9" font-size="10.3" style="stroke-width:0.45px"><tspan font-style="italic">P</tspan> &lt; 0.0 </text><path transform=" translate(477.422,223.900) scale(0.005029,-0.005029)" d="M685,0 L685,1237 L367,1010 L367,1180 L700,1409 L866,1409 L866,0 Z" fill="#000" stroke="#000" stroke-width="89.48"/>
</g>
<rect x="0" y="1" width="520" height="1" fill="#c4c4c4"/><rect x="1" y="0" width="1" height="371" fill="#a0a0a0"/>
<rect x="518" y="0" width="1" height="371" fill="#8a8a8a"/><rect x="0" y="369" width="520" height="1" fill="#888"/>
<rect x="0" y="0" width="520" height="1" fill="#555"/><rect x="0" y="0" width="1" height="371" fill="#505050"/>
<rect x="519" y="0" width="1" height="371" fill="#555"/><rect x="0" y="370" width="520" height="1" fill="#555"/>
</svg>
</body></html>
